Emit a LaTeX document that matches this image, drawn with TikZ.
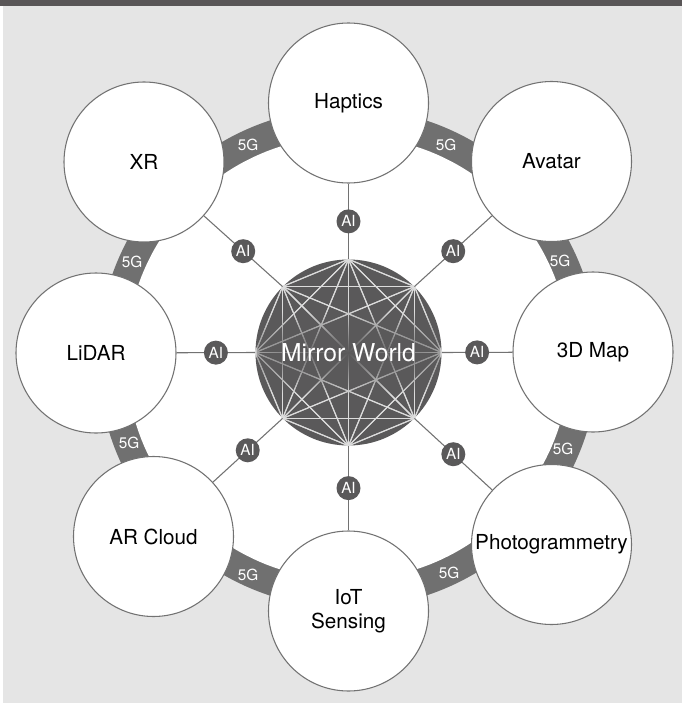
\documentclass[tikz,border=0pt]{standalone}
\usepackage{fontspec}
\setmainfont{TeX Gyre Heros}
\usetikzlibrary{fadings}
\definecolor{bggray}{HTML}{E5E5E5}
\definecolor{bargray}{HTML}{595657}
\definecolor{bandgray}{HTML}{707070}
\definecolor{hubgray}{HTML}{5A595A}
\definecolor{rimgray}{HTML}{727272}
\definecolor{meshgray}{HTML}{DCDCDC}
\tikzfading[name=textglow, inner color=transparent!0, outer color=transparent!100]
\begin{document}
\begin{tikzpicture}[x=0.75pt,y=-0.75pt,
  spot/.style={circle,draw=rimgray,line width=0.8pt,fill=white,minimum size=120pt,
    inner sep=0pt,align=center,font=\fontsize{15.5}{18}\selectfont},
  hubdisc/.style={circle,fill=hubgray,minimum size=139.5pt,inner sep=0pt},
  mesh/.style={draw=meshgray,line width=0.8pt},
  spoke/.style={draw=rimgray,line width=0.8pt},
  ai/.style={circle,fill=hubgray,text=white,minimum size=18pt,inner sep=0pt,
    font=\fontsize{11.5}{13}\selectfont},
  fiveg/.style={text=white,inner sep=1pt,font=\fontsize{11.5}{13}\selectfont}]

\fill[white]   (0,0) rectangle (682,703);
\fill[bggray]  (3,6) rectangle (682,703);
\fill[bargray] (0,0) rectangle (682,6);

\fill[bandgray] (348,358) circle (250);
\fill[white]    (348,358) circle (222);

\node[spot] (haptics) at (348.5,103)   {Haptics};
\node[spot] (avatar)  at (551.5,161.5) {Avatar};
\node[spot] (map)     at (593,352)     {3D Map};
\node[spot] (photo)   at (551.5,544.5) {Photogrammetry};
\node[spot] (iot)     at (348.5,611)   {IoT\\Sensing};
\node[spot] (arcloud) at (153.5,536.5) {AR Cloud};
\node[spot] (lidar)   at (96,353)      {LiDAR};
\node[spot] (xr)      at (144,162)     {XR};

\node[hubdisc] (mw) at (348.5,352.5) {};
\foreach \a in {0,45,...,315}
  \foreach \b in {0,45,...,315}
    \draw[mesh] (mw.\a) -- (mw.\b);
\begin{scope}
  \clip (mw.center) circle (92);
  \fill[hubgray, path fading=textglow] (mw.center) ellipse (170 and 44);
\end{scope}
\node[text=white,font=\fontsize{18.5}{21}\selectfont] (mwtext) at (mw) {Mirror World};

\draw[spoke] (mw.90)  -- node[ai] {AI} (haptics);
\draw[spoke] (mw.45)  -- node[ai] {AI} (avatar);
\draw[spoke] (mw.0)   -- node[ai] {AI} (map);
\draw[spoke] (mw.315) -- node[ai] {AI} (photo);
\draw[spoke] (mw.270) -- node[ai] {AI} (iot);
\draw[spoke] (mw.225) -- node[ai] {AI} (arcloud);
\draw[spoke] (mw.180) -- node[ai] {AI} (lidar);
\draw[spoke] (mw.135) -- node[ai] {AI} (xr);

\node[fiveg] (g1) at (248,145) {5G};
\node[fiveg] (g2) at (446,145) {5G};
\node[fiveg] (g3) at (560,261) {5G};
\node[fiveg] (g4) at (563,449) {5G};
\node[fiveg] (g5) at (449,573) {5G};
\node[fiveg] (g6) at (248,575) {5G};
\node[fiveg] (g7) at (129,443) {5G};
\node[fiveg] (g8) at (132,262) {5G};
\end{tikzpicture}
\end{document}
